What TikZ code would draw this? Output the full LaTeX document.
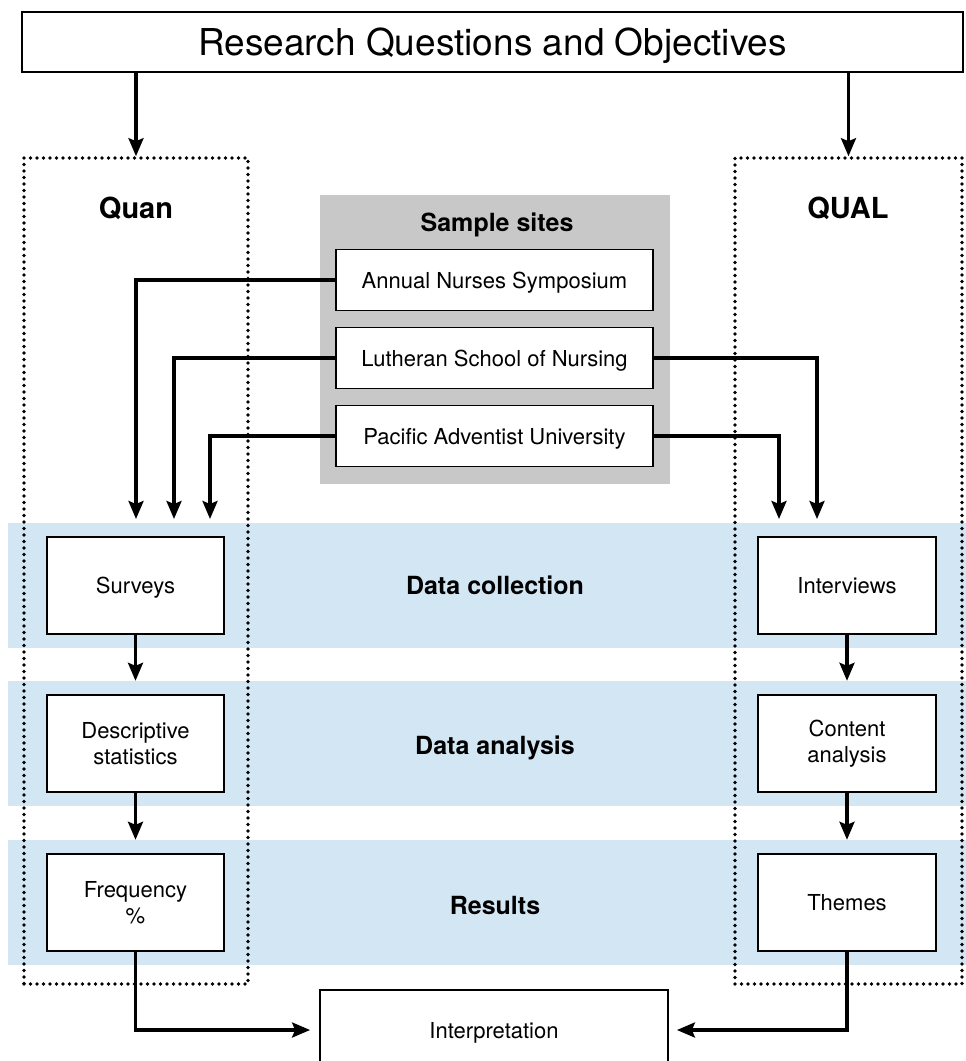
\documentclass[tikz,border=0pt]{standalone}
\usepackage{fontspec}
\setmainfont{TeX Gyre Heros}
\usetikzlibrary{arrows.meta}

\definecolor{bandblue}{HTML}{D2E6F4}
\definecolor{sitegray}{HTML}{C8C8C8}

\tikzset{
  stepbox/.style={draw, line width=1.8pt, fill=white, align=center,
    minimum width=177pt, minimum height=97pt, inner sep=0pt,
    font=\fontsize{22}{26}\selectfont},
  oneline/.style={text height=16pt, text depth=0pt},
  sitebox/.style={draw, line width=1.8pt, fill=white,
    minimum width=317pt, minimum height=61pt, inner sep=0pt, oneline,
    font=\fontsize{22}{26}\selectfont},
  band/.style={fill=bandblue, minimum width=958pt, minimum height=125pt, inner sep=0pt},
  dotbox/.style={draw, line width=3.6pt, line cap=round, dash pattern=on 0pt off 6.5pt,
    minimum height=826pt, inner sep=0pt},
  rowlabel/.style={font=\fontsize{25}{30}\selectfont\bfseries, text height=18pt, text depth=0pt},
  arr/.style={line width=3.2pt, -{Stealth[length=18pt,width=15pt,inset=3pt]}}
}

\begin{document}
\begin{tikzpicture}[x=1pt,y=-1pt]

% page
\fill[white] (0,0) rectangle (966,1061);
\useasboundingbox (0,0) rectangle (966,1061);

% Blue bands
\node[band] (collect) at (487,585.5) {};
\node[band] (analysis) at (487,743.5) {};
\node[band] (results) at (487,902.5) {};

% Row labels
\node[rowlabel] (lcollect) at (495,585) {Data collection};
\node[rowlabel] (lanalysis) at (495,745) {Data analysis};
\node[rowlabel] (lresults) at (495,905) {Results};

% Dotted strands
\node[dotbox, minimum width=224pt] (quan) at (136,571) {};
\node[dotbox, minimum width=227pt] (qual) at (848.5,571) {};
\node[font=\fontsize{29}{34}\selectfont\bfseries, text height=21pt, text depth=0pt] (lquan) at (136,208) {Quan};
\node[font=\fontsize{29}{34}\selectfont\bfseries, text height=21pt, text depth=0pt] (lqual) at (848,208) {QUAL};

% Research questions
\node[draw, line width=2.5pt, minimum width=941pt, minimum height=60pt, inner sep=0pt,
  text height=27pt, text depth=0pt,
  font=\fontsize{37}{44}\selectfont] (rq) at (492.5,42) {Research Questions and Objectives};
\draw[arr] (rq.south -| quan.north) -- (quan.north);
\draw[arr] (rq.south -| qual.north) -- (qual.north);

% Sample sites
\node[fill=sitegray, minimum width=350pt, minimum height=289pt, inner sep=0pt] (sites) at (495,339.5) {};
\node[rowlabel] (lsites) at (497,222) {Sample sites};
\node[sitebox] (annual) at (494.5,280) {Annual Nurses Symposium};
\node[sitebox] (lutheran) at (494.5,358) {Lutheran School of Nursing};
\node[sitebox] (pacific) at (494.5,436) {Pacific Adventist University};

% Quan boxes
\node[stepbox, oneline] (surveys) at (135.5,585.5) {Surveys};
\node[stepbox] (descr) at (135.5,743.5) {Descriptive\\statistics};
\node[stepbox] (freq) at (135.5,902.5) {Frequency\\\%};

% QUAL boxes
\node[stepbox, oneline, minimum width=178pt] (interviews) at (847,585.5) {Interviews};
\node[stepbox, minimum width=178pt] (content) at (847,743.5) {Content\\analysis};
\node[stepbox, oneline, minimum width=178pt] (themes) at (847,902.5) {Themes};

% Interpretation
\node[draw, line width=1.8pt, fill=white, minimum width=348pt, minimum height=80pt, inner sep=0pt,
  oneline, font=\fontsize{22}{26}\selectfont] (interp) at (494,1030) {Interpretation};

% Sites to strands
\coordinate (inA) at (136,519);
\coordinate (inL) at (174,519);
\coordinate (inP) at (210,519);
\coordinate (inLq) at (817,519);
\coordinate (inPq) at (779,519);
\draw[arr] (annual.west) -| (inA);
\draw[arr] (lutheran.west) -| (inL);
\draw[arr] (pacific.west) -| (inP);
\draw[arr] (lutheran.east) -| (inLq);
\draw[arr] (pacific.east) -| (inPq);

% Down the strands
\draw[arr] (surveys.south) -- (surveys.south |- analysis.north);
\draw[arr] (descr.south) -- (descr.south |- results.north);
\draw[arr] (interviews.south) -- (interviews.south |- analysis.north);
\draw[arr] (content.south) -- (content.south |- results.north);

% Into interpretation
\draw[arr, shorten >=9pt] (freq.south) |- (interp.west);
\draw[arr, shorten >=8pt] (themes.south) |- (interp.east);

\end{tikzpicture}
\end{document}
